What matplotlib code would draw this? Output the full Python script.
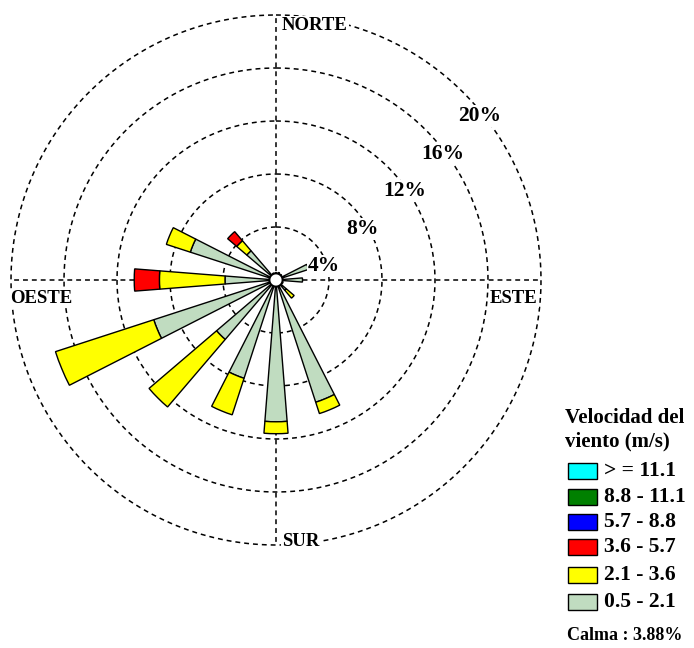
import numpy as np
import matplotlib
matplotlib.use("Agg")
from matplotlib import pyplot as plt
from matplotlib.patches import Rectangle

# wind directions (meteorological, clockwise from north)
directions = ["N", "NNE", "NE", "ENE", "E", "ESE", "SE", "SSE",
              "S", "SSW", "SW", "WSW", "W", "WNW", "NW", "NNW"]
angles_deg = np.arange(16) * 22.5

# frequency (%) of each speed class per direction
freq_05_21 = [0.55, 0.6, 0.55, 2.6, 2.0, 0.55, 1.0, 9.7,
              10.7, 7.8, 5.9, 9.7, 3.85, 6.8, 2.9, 0.55]
freq_21_36 = [0, 0, 0, 0, 0, 0, 0.8, 0.9,
              0.9, 2.9, 6.7, 7.8, 4.95, 1.9, 1.0, 0]
freq_36_57 = [0, 0, 0, 0, 0, 0, 0, 0,
              0, 0, 0, 0, 1.9, 0, 0.9, 0]
freq_57_88 = [0] * 16
freq_88_111 = [0] * 16
freq_111 = [0] * 16

classes = ["0.5 - 2.1", "2.1 - 3.6", "3.6 - 5.7", "5.7 - 8.8", "8.8 - 11.1", "> = 11.1"]
class_colors = ["#c0dcc0", "#ffff00", "#ff0000", "#0000ff", "#008000", "#00ffff"]
calm = 3.88
rings = [4, 8, 12, 16, 20]

W, H = 694, 648
def fx(x):
    return x / W
def fy(y):
    return 1 - y / H

plt.rcParams['font.family'] = ['Liberation Serif', 'DejaVu Serif']

fig = plt.figure(figsize=(W / 100, H / 100), dpi=100)
cx, cy, R = 276, 280, 265
ax = fig.add_axes([fx(cx - R), fy(cy + R), 2 * R / W, 2 * R / H], projection='polar')
ax.set_theta_zero_location('N')
ax.set_theta_direction(-1)
ax.set_ylim(0, rings[-1])
ax.set_axis_off()

dash = (0, (3.2, 2.6))
# dashed rings and cross
t = np.linspace(0, 2 * np.pi, 500)
for r in rings:
    ax.plot(t, np.full_like(t, r), color='black', lw=1.1, ls=dash,
            clip_on=False, zorder=1)
for a in [0, 90, 180, 270]:
    ax.plot([np.deg2rad(a)] * 2, [0, rings[-1]], color='black', lw=1.1,
            ls=dash, clip_on=False, zorder=1)

# stacked petals
theta = np.deg2rad(angles_deg)
width = np.deg2rad(9)
bottom = np.zeros(16)
for vals, col in zip([freq_05_21, freq_21_36, freq_36_57, freq_57_88, freq_88_111, freq_111],
                     class_colors):
    vals = np.array(vals)
    m = vals > 0
    if m.any():
        ax.bar(theta[m], vals[m], width=width, bottom=bottom[m], color=col,
               edgecolor='black', linewidth=1.0, zorder=2)
    bottom += vals

# calm circle
ax.fill(t, np.full_like(t, 0.5), facecolor='white', edgecolor='black', lw=1.5, zorder=3)

# direction labels
bg = dict(facecolor='white', edgecolor='none', pad=0.5)
fs_dir = 13.5
fig.text(fx(282), fy(25), "NORTE", fontsize=fs_dir, fontweight='bold',
         ha='left', va='center', bbox=bg)
fig.text(fx(490), fy(299), "ESTE", fontsize=fs_dir, fontweight='bold',
         ha='left', va='center', bbox=bg)
fig.text(fx(10), fy(299), "OESTE", fontsize=fs_dir, fontweight='bold',
         ha='left', va='center', bbox=bg)
fig.text(fx(282), fy(541), "SUR", fontsize=fs_dir, fontweight='bold',
         ha='left', va='center', bbox=bg)

# ring labels
ring_pos = [(324, 266), (362, 229), (405, 191), (443, 154), (480, 116)]
for r, (x, y) in zip(rings, ring_pos):
    fig.text(fx(x), fy(y), f"{r}%", fontsize=15.5, fontweight='bold',
             ha='center', va='center', bbox=bg)

# legend
fig.text(fx(565), fy(418), "Velocidad del", fontsize=15, fontweight='bold',
         ha='left', va='center')
fig.text(fx(565), fy(441), "viento (m/s)", fontsize=15, fontweight='bold',
         ha='left', va='center')
row_y = [471, 497, 522, 547, 575, 602]
for lab, col, y in zip(classes[::-1], class_colors[::-1], row_y):
    fig.add_artist(Rectangle((fx(568), fy(y + 8)), 29 / W, 16 / H,
                             facecolor=col, edgecolor='black', lw=1,
                             transform=fig.transFigure))
    fig.text(fx(604), fy(y), lab, fontsize=15.5, fontweight='bold',
             ha='left', va='center')
fig.text(fx(567), fy(636), f"Calma : {calm:.2f}%", fontsize=13, fontweight='bold',
         ha='left', va='center')

fig.savefig("out.png", dpi=100)
